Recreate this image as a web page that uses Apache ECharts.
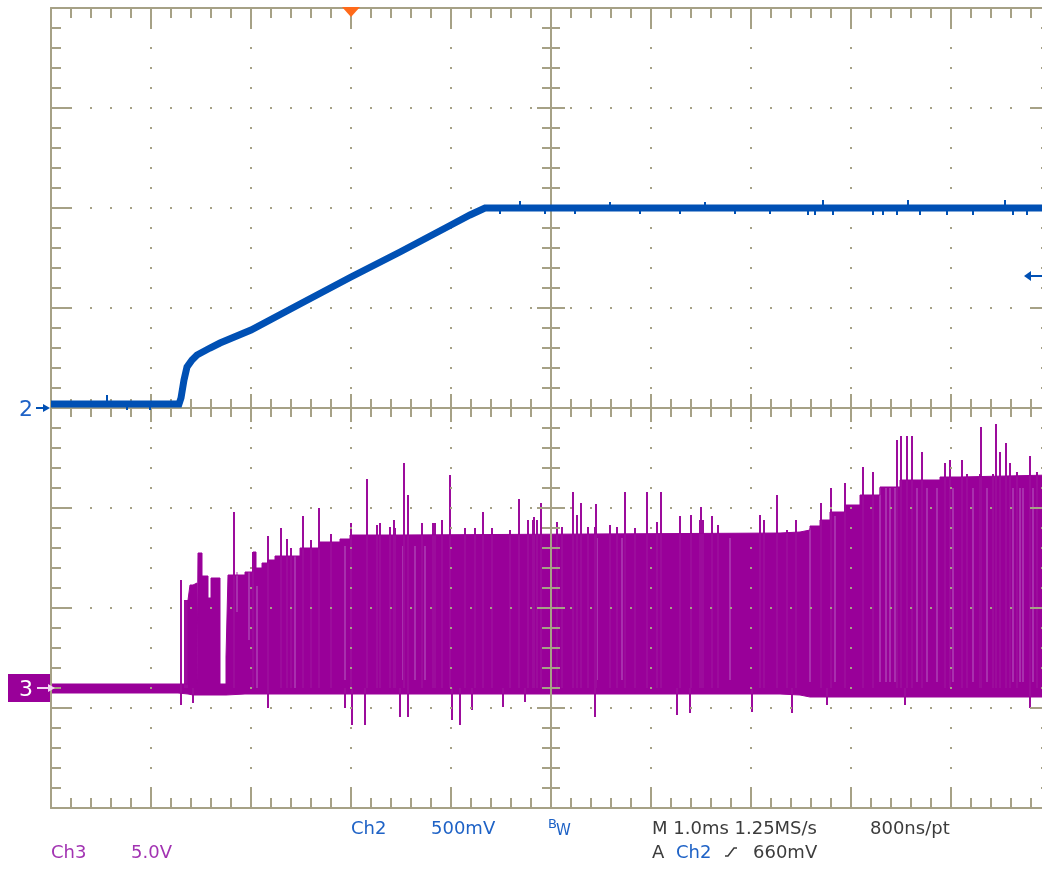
<!DOCTYPE html>
<html>
<head>
<meta charset="utf-8">
<title>Ch2 / Ch3 scope capture</title>
<script src="https://cdn.jsdelivr.net/npm/echarts@6/dist/echarts.min.js"></script>
<style>
html, body { margin: 0; padding: 0; background: #fff; }
#main { width: 1042px; height: 883px; }
</style>
</head>
<body>
<div id="main"></div>
<script>
// time in ms, trigger at 0
// Ch2 (500mV/div)
var ch2Time = [-3.0, -1.72, -1.70, -1.67, -1.64, -1.59, -1.54, -1.41, -1.31, -1.00, -0.51, 0.00, 0.49, 1.00, 1.19, 1.34, 7.0];
var ch2Volt = [0.02, 0.02, 0.05, 0.14, 0.205, 0.24, 0.265, 0.30, 0.325, 0.39, 0.52, 0.655, 0.78, 0.915, 0.965, 1.0, 1.0];
// small noise ticks on ch2
var ch2SpikeTime = [-2.44, -2.24, -2.01, 1.49, 1.69, 1.94, 2.24, 2.59, 2.89, 3.29, 3.54, 3.84, 4.19, 4.57, 4.64, 4.72, 4.82, 5.22, 5.32, 5.46, 5.57, 5.69, 5.96, 6.22, 6.54, 6.62, 6.76];
var ch2SpikePeak = [0.065, -0.01, -0.01, 0.97, 1.035, 0.97, 0.97, 1.03, 0.97, 0.97, 1.03, 0.97, 0.97, 0.965, 0.965, 1.04, 0.965, 0.965, 0.965, 0.965, 1.04, 0.965, 0.965, 0.965, 1.04, 0.965, 0.965];

// Ch3 (5V/div) envelope of the switching waveform
var ch3Time = [-3.0, -1.73, -1.63, -1.61, -1.58, -1.54, -1.53, -1.49, -1.43, -1.40, -1.31, -1.25, -1.23, -1.06, -0.98, -0.95, -0.89, -0.83, -0.76, -0.51, -0.31, -0.11, -0.01, 0.49, 4.29, 4.49, 4.59, 4.69, 4.79, 4.94, 5.09, 5.29, 5.49, 5.89, 6.09, 7.0];
var ch3High = [0.2, 0.2, 4.4, 5.15, 5.25, 0.2, 6.75, 5.6, 4.5, 5.5, 0.2, 1.55, 5.65, 5.8, 6.8, 6.0, 6.25, 6.4, 6.6, 7.0, 7.3, 7.45, 7.65, 7.75, 7.8, 7.9, 8.1, 8.4, 8.8, 9.15, 9.65, 10.05, 10.4, 10.55, 10.65, 10.7];
var ch3Low = [-0.25, -0.3, -0.35, -0.35, -0.35, -0.35, -0.35, -0.35, -0.35, -0.35, -0.35, -0.35, -0.3, -0.3, -0.3, -0.3, -0.3, -0.3, -0.3, -0.3, -0.3, -0.3, -0.3, -0.3, -0.35, -0.45, -0.45, -0.45, -0.45, -0.45, -0.45, -0.45, -0.45, -0.45, -0.45, -0.45];
// spikes above the envelope
var ch3UpTime = [-1.70, -1.66, -1.64, -1.17, -0.98, -0.83, -0.70, -0.64, -0.48, -0.32, 0.00, 0.16, 0.43, 0.53, 0.57, 0.99, 1.32, 1.68, 1.77, 1.83, 1.90, 2.22, 2.26, 2.30, 2.45, 2.74, 2.96, 3.10, 3.29, 3.40, 3.50, 3.61, 4.09, 4.13, 4.26, 4.45, 4.70, 4.80, 4.94, 5.12, 5.22, 5.46, 5.50, 5.56, 5.61, 5.71, 5.94, 5.99, 6.11, 6.30, 6.45, 6.49, 6.55, 6.59, 6.79,
  0.26, 0.29, 0.39, 0.44, 0.71, 0.82, 0.84, 0.91, 1.14, 1.24, 1.41, 1.59, 1.82, 1.86, 2.06, 2.11, 2.37, 2.44, 2.59, 2.66, 2.84, 3.06, 3.49, 3.52, 3.67, 4.36, 6.16, 6.29, 6.42, 6.66, 6.86, -0.60, -0.40, -0.20];
var ch3UpPeak = [5.4, 4.4, 4.4, 8.8, 6.8, 7.6, 8.0, 7.45, 8.6, 9.0, 8.25, 10.45, 8.4, 11.25, 9.65, 10.65, 8.8, 9.45, 8.4, 8.55, 9.25, 9.8, 8.65, 9.25, 9.2, 9.8, 9.8, 9.8, 8.6, 8.65, 9.05, 8.6, 8.65, 8.4, 9.65, 8.4, 9.25, 10.0, 10.25, 11.05, 10.8, 12.4, 12.6, 12.6, 12.6, 11.8, 11.25, 11.4, 11.4, 13.05, 13.2, 11.8, 12.25, 11.25, 11.6,
  8.15, 8.25, 8.05, 8.0, 8.25, 8.25, 8.25, 8.4, 8.0, 8.0, 8.0, 7.9, 8.4, 8.4, 8.3, 8.05, 8.05, 8.05, 8.15, 8.05, 8.0, 8.3, 8.4, 8.4, 8.15, 7.9, 10.7, 10.7, 10.7, 10.8, 10.8, 7.0, 7.4, 7.7];
var ch3DownTime = [-1.70, -1.58, -0.83, -0.06, 0.01, 0.14, 0.49, 0.57, 1.01, 1.09, 1.21, 1.52, 1.74, 2.44, 3.26, 3.39, 4.01, 4.41, 4.76, 5.54, 6.79];
var ch3DownPeak = [-0.85, -0.75, -1.0, -1.0, -1.85, -1.85, -1.45, -1.45, -1.6, -1.85, -1.1, -0.95, -0.7, -1.45, -1.35, -1.25, -1.2, -1.25, -0.85, -0.85, -1.0];
// lighter gaps inside the switching body
var ch3GapTime = [-1.14, -1.02, -0.94, -0.56, -0.06, 0.26, 0.52, 0.64, 0.74, 2.46, 2.71, 3.79, 4.59, 4.84, 5.29, 5.35, 5.39, 5.44, 5.56, 5.66, 5.76, 5.86, 6.02, 6.16, 6.22, 6.29, 6.36, 6.42, 6.49, 6.62, 6.69, 6.72, 6.82];
var ch3GapTop = [5.8, 5.8, 5.1, 6.6, 7.1, 7.1, 7.1, 7.1, 7.1, 7.5, 7.5, 7.5, 8.0, 8.6, 10.0, 10.0, 10.0, 10.0, 10.0, 10.0, 10.0, 10.0, 10.0, 10.0, 10.0, 10.0, 10.0, 10.0, 10.0, 10.0, 10.0, 10.0, 10.0];
var ch3GapBottom = [3.8, 2.4, 0.0, 0.0, 0.4, 0.4, 0.4, 0.4, 0.4, 0.4, 0.4, 0.4, 0.3, 0.3, 0.3, 0.3, 0.3, 0.3, 0.3, 0.3, 0.3, 0.3, 0.3, 0.3, 0.3, 0.3, 0.3, 0.3, 0.3, 0.3, 0.3, 0.3, 0.3];

var trigLevel = 0.66;
var readoutRow1 = [['Ch2', 351, 'blue'], ['500mV', 431, 'blue'], ['M 1.0ms 1.25MS/s', 652, 'dark'], ['800ns/pt', 870, 'dark']];
var readoutRow2 = [['Ch3', 51, 'purple'], ['5.0V', 131, 'purple'], ['A', 652, 'dark'], ['Ch2', 676, 'blue'], ['660mV', 753, 'dark']];

var GRAT = '#a6a186';
var BLUE = '#0050b4';
var PURPLE = '#990099';
var TXT = { blue: '#1e62c6', purple: '#a233b2', dark: '#3c3c3c' };
var FONT = '"DejaVu Sans", sans-serif';

function levelAt(t) {
  var v = ch2Volt[0];
  for (var i = 0; i < ch2Time.length; i++) { if (ch2Time[i] <= t) v = ch2Volt[i]; }
  return v > 0.5 ? 1.0 : 0.02;
}

// graticule axis (in divisions)
function grat(dim, pos, tickIn, opts) {
  var ax = {
    type: 'value', position: pos, min: dim === 'x' ? -5 : -4, max: dim === 'x' ? 5 : 4, interval: 1,
    z: 3,
    axisLabel: { show: false },
    axisLine: { show: true, onZero: opts.onZero, lineStyle: { color: GRAT, width: 2 } },
    axisTick: { show: true, inside: tickIn, length: opts.major, lineStyle: { color: GRAT, width: 2 } },
    minorTick: { show: true, splitNumber: 5, length: opts.minor, lineStyle: { color: GRAT, width: 2 } },
    splitLine: { show: !!opts.split, lineStyle: { color: GRAT, width: 2, type: [2, 18], dashOffset: 1 } },
    minorSplitLine: { show: false }
  };
  if (opts.onZero) ax.axisLine.onZeroAxisIndex = 0;
  return ax;
}

var chart = echarts.init(document.getElementById('main'));

function spikes(times, peaks, baseFn, xi, yi, color, z, width) {
  return {
    type: 'custom', xAxisIndex: xi, yAxisIndex: yi, z: z, silent: true,
    data: times.map(function (t, i) { return [t, baseFn(t, i), peaks[i]]; }),
    encode: { x: 0, y: [1, 2] },
    renderItem: function (params, api) {
      var a = api.coord([api.value(0), api.value(1)]);
      var b = api.coord([api.value(0), api.value(2)]);
      return { type: 'line', shape: { x1: a[0], y1: a[1], x2: b[0], y2: b[1] }, style: { stroke: color, lineWidth: width || 2 } };
    }
  };
}

var option = {
  animation: false,
  backgroundColor: '#ffffff',
  grid: { left: 51, top: 8, width: 1000, height: 800, outerBoundsMode: 'none', containLabel: false },
  xAxis: [
    grat('x', 'bottom', true, { onZero: false, major: 20, minor: 10, split: true }),
    grat('x', 'top', true, { onZero: false, major: 20, minor: 10 }),
    grat('x', 'bottom', true, { onZero: true, major: 14, minor: 9 }),
    grat('x', 'bottom', false, { onZero: true, major: 14, minor: 9 }),
    { type: 'value', min: -3, max: 7, show: false }
  ],
  yAxis: [
    grat('y', 'left', true, { onZero: false, major: 21, minor: 10, split: true }),
    grat('y', 'right', true, { onZero: false, major: 21, minor: 10 }),
    grat('y', 'left', true, { onZero: true, major: 14, minor: 9 }),
    grat('y', 'left', false, { onZero: true, major: 14, minor: 9 }),
    { type: 'value', min: -2, max: 2, show: false },
    { type: 'value', min: -6, max: 34, show: false }
  ],
  series: [
    {
      name: 'Ch3 high', type: 'line', xAxisIndex: 4, yAxisIndex: 5, z: 2, step: 'end',
      showSymbol: false, silent: true,
      data: ch3Time.map(function (t, i) { return [t, ch3High[i]]; }),
      lineStyle: { color: PURPLE, width: 1 },
      areaStyle: { color: PURPLE, opacity: 1 }
    },
    {
      name: 'Ch3 low', type: 'line', xAxisIndex: 4, yAxisIndex: 5, z: 2, step: 'end',
      showSymbol: false, silent: true,
      data: ch3Time.map(function (t, i) { return [t, ch3Low[i]]; }),
      lineStyle: { color: PURPLE, width: 1 },
      areaStyle: { color: PURPLE, opacity: 1 }
    },
    spikes(ch3GapTime, ch3GapTop, function (t, i) { return ch3GapBottom[i]; }, 4, 5, '#b24fbb', 2, 1.2),
    spikes(ch3UpTime, ch3UpPeak, function () { return 0; }, 4, 5, '#9c0c9c', 2, 2),
    spikes(ch3DownTime, ch3DownPeak, function () { return 0; }, 4, 5, '#9c0c9c', 2, 2),
    {
      name: 'Ch2', type: 'line', xAxisIndex: 4, yAxisIndex: 4, z: 5,
      showSymbol: false, silent: true,
      data: ch2Time.map(function (t, i) { return [t, ch2Volt[i]]; }),
      lineStyle: { color: BLUE, width: 7, join: 'miter' }
    },
    spikes(ch2SpikeTime, ch2SpikePeak, levelAt, 4, 4, BLUE, 5, 2)
  ]
};
chart.setOption(option);

// markers placed from the data axes
var xTrig = chart.convertToPixel({ xAxisIndex: 4 }, 0);
var yCh2 = chart.convertToPixel({ yAxisIndex: 4 }, 0);
var yCh3 = chart.convertToPixel({ yAxisIndex: 5 }, 0);
var yLvl = chart.convertToPixel({ yAxisIndex: 4 }, trigLevel);

var g = [];
g.push({ type: 'polygon', z: 100, shape: { points: [[xTrig - 9, 7], [xTrig + 9, 7], [xTrig, 17]] }, style: { fill: '#ff6a1a' } });
// ch2 ground marker
g.push({ type: 'text', z: 100, x: 26, y: yCh2 + 2, style: { text: '2', font: '22px ' + FONT, fill: TXT.blue, align: 'center', verticalAlign: 'middle' } });
g.push({ type: 'line', z: 100, shape: { x1: 36, y1: yCh2, x2: 46, y2: yCh2 }, style: { stroke: BLUE, lineWidth: 2 } });
g.push({ type: 'polygon', z: 100, shape: { points: [[50, yCh2], [43, yCh2 - 4], [43, yCh2 + 4]] }, style: { fill: BLUE } });
// ch3 ground marker
g.push({ type: 'rect', z: 100, shape: { x: 8, y: yCh3 - 14, width: 42, height: 28 }, style: { fill: PURPLE } });
g.push({ type: 'text', z: 101, x: 26, y: yCh3 + 2, style: { text: '3', font: '22px ' + FONT, fill: '#ffffff', align: 'center', verticalAlign: 'middle' } });
g.push({ type: 'line', z: 101, shape: { x1: 37, y1: yCh3, x2: 50, y2: yCh3 }, style: { stroke: '#f4d4f4', lineWidth: 2 } });
g.push({ type: 'polygon', z: 101, shape: { points: [[55, yCh3], [48, yCh3 - 4], [48, yCh3 + 4]] }, style: { fill: '#f4d4f4' } });
// trigger level arrow
g.push({ type: 'line', z: 100, shape: { x1: 1029, y1: yLvl, x2: 1042, y2: yLvl }, style: { stroke: BLUE, lineWidth: 2 } });
g.push({ type: 'polygon', z: 100, shape: { points: [[1024, yLvl], [1031, yLvl - 5], [1031, yLvl + 5]] }, style: { fill: BLUE } });

readoutRow1.forEach(function (r) {
  g.push({ type: 'text', z: 100, x: r[1], y: 829, style: { text: r[0], font: '18px ' + FONT, fill: TXT[r[2]], verticalAlign: 'middle' } });
});
readoutRow2.forEach(function (r) {
  g.push({ type: 'text', z: 100, x: r[1], y: 853, style: { text: r[0], font: '18px ' + FONT, fill: TXT[r[2]], verticalAlign: 'middle' } });
});
// bandwidth limit "Bw"
g.push({ type: 'text', z: 100, x: 548, y: 825, style: { text: 'B', font: '13px ' + FONT, fill: TXT.blue, verticalAlign: 'middle' } });
g.push({ type: 'text', z: 100, x: 556, y: 831, style: { text: 'W', font: '15px ' + FONT, fill: TXT.blue, verticalAlign: 'middle' } });
// rising edge symbol
g.push({ type: 'polyline', z: 100, shape: { points: [[725, 856], [728, 856], [734, 848], [737, 848]] }, style: { stroke: TXT.dark, lineWidth: 1.5, fill: null } });

chart.setOption({ graphic: g });
</script>
</body>
</html>
